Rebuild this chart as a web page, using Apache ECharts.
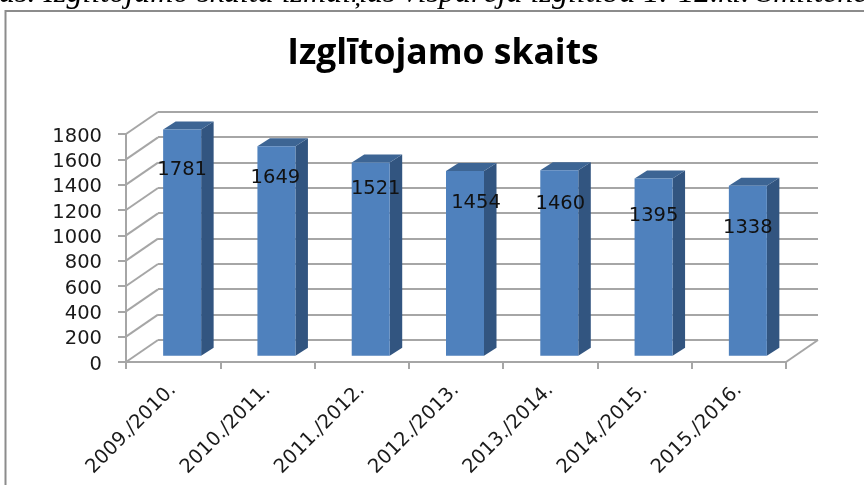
<!DOCTYPE html>
<html><head><meta charset="utf-8">
<style>html,body{margin:0;padding:0;background:#fff}#c{width:864px;height:485px}</style>
<script src="https://cdn.jsdelivr.net/npm/echarts@6/dist/echarts.min.js"></script>
</head><body><div id="c"></div>
<script>
const categories = ['2009./2010.','2010./2011.','2011./2012.','2012./2013.','2013./2014.','2014./2015.','2015./2016.'];
const pupils = [1781,1649,1521,1454,1460,1395,1338];
const yTicks = [0,200,400,600,800,1000,1200,1400,1600,1800];
const labelShiftX = [0,-1,5,11,1,0,0];
const labelShiftY = [41,32,26,32,34,37,42];
const title = 'Izglītojamo skaits';
const caption = 'as. Izglītojamo skaita izmaiņas vispārējā izglītībā 1.-12.kl. Smiltenes novadā';

const DEPTH = [32,-22];
const BAR_W = 38, BAR_DX = 12.5, BAR_DY = -8;
const GRID_C = '#a6a6a6';
const TEXT_FONT = 'DejaVu Sans';
const chart = echarts.init(document.getElementById('c'),null,{renderer:'canvas'});

function barItem(p, api){
  const i = api.value(0), v = api.value(1);
  const top = api.coord([i,v]), base = api.coord([i,0]);
  const l = top[0]-BAR_W/2, r = top[0]+BAR_W/2, t = top[1], b = base[1];
  const dx = BAR_DX, dy = BAR_DY;
  return {type:'group',children:[
    {type:'polygon',shape:{points:[[r,t],[r+dx,t+dy],[r+dx,b+dy],[r,b]]},style:{fill:'#325580'}},
    {type:'polygon',shape:{points:[[l,t],[l+dx,t+dy],[r+dx,t+dy],[r,t]]},style:{fill:'#3d6594'}},
    {type:'rect',shape:{x:l,y:t,width:BAR_W,height:b-t},style:{fill:'#4f81bd'}},
    {type:'text',x:top[0]+labelShiftX[i],y:t+labelShiftY[i],style:{text:String(v),fill:'#111',font:'19.5px "'+TEXT_FONT+'"',align:'center',verticalAlign:'middle'}}
  ]};
}
function wallLeft(p, api){
  const v = api.value(0), c = api.coord([0,v]);
  const x = c[0]-api.size([1,0])[0]/2;
  return {type:'line',shape:{x1:x,y1:c[1],x2:x+DEPTH[0],y2:c[1]+DEPTH[1]},style:{stroke:GRID_C,lineWidth:2}};
}
function floorRight(p, api){
  const c = api.coord([api.value(0),0]);
  const x = c[0]+api.size([1,0])[0]/2;
  return {type:'line',shape:{x1:x,y1:c[1],x2:x+DEPTH[0],y2:c[1]+DEPTH[1]},style:{stroke:GRID_C,lineWidth:2}};
}
const hiddenY = {type:'value',min:0,max:1800,interval:200,axisLabel:{show:false},axisLine:{show:false},axisTick:{show:false},splitLine:{show:false}};
const hiddenX = {type:'category',data:categories,axisLabel:{show:false},axisLine:{show:false},axisTick:{show:false}};

chart.setOption({
  animation:false,
  backgroundColor:'#fff',
  title:{text:title,left:443,textAlign:'center',top:36,padding:0,textStyle:{fontFamily:'Open Sans',fontWeight:'bold',fontSize:35.5,color:'#000'}},
  graphic:[
    {type:'polyline',shape:{points:[[5.5,485],[5.5,11],[864,11]]},style:{stroke:'#8c8c8c',lineWidth:2,fill:null},z:0},
    {type:'text',x:-1,y:-22,style:{text:caption,font:'italic 32px "Liberation Serif"',fill:'#000'},z:10}
  ],
  grid:[
    {left:126,right:78,top:134,bottom:123},
    {left:158,right:46,top:111.5,bottom:145},
    {left:135,right:69,top:127,bottom:129.3}
  ],
  xAxis:[
    {type:'category',data:categories,gridIndex:0,boundaryGap:true,
     axisLine:{lineStyle:{color:GRID_C,width:2}},
     axisTick:{show:true,alignWithLabel:false,length:7,lineStyle:{color:GRID_C,width:2}},
     axisLabel:{rotate:45,margin:25,interval:0,fontFamily:TEXT_FONT,fontSize:19.5,color:'#1a1a1a'}},
    Object.assign({gridIndex:1},hiddenX),
    Object.assign({gridIndex:2},hiddenX)
  ],
  yAxis:[
    {type:'value',gridIndex:0,min:0,max:1800,interval:200,
     axisLine:{show:true,lineStyle:{color:GRID_C,width:2}},
     axisTick:{show:true,length:8,lineStyle:{color:GRID_C,width:2}},
     axisLabel:{margin:24,verticalAlign:'top',lineHeight:5,fontFamily:TEXT_FONT,fontSize:19.5,color:'#1a1a1a',formatter:v=>String(v)},
     splitLine:{show:false}},
    Object.assign({},hiddenY,{gridIndex:1,splitLine:{show:true,lineStyle:{color:GRID_C,width:2}}}),
    Object.assign({gridIndex:2},hiddenY)
  ],
  series:[
    {type:'custom',xAxisIndex:0,yAxisIndex:0,data:yTicks.map(v=>[v]),renderItem:wallLeft,encode:{y:0},silent:true,z:1},
    {type:'custom',xAxisIndex:0,yAxisIndex:0,data:[[categories.length-1]],renderItem:floorRight,encode:{x:0},silent:true,z:1},
    {type:'custom',xAxisIndex:2,yAxisIndex:2,data:pupils.map((v,i)=>[i,v]),renderItem:barItem,encode:{x:0,y:1},z:5}
  ]
});
</script></body></html>
